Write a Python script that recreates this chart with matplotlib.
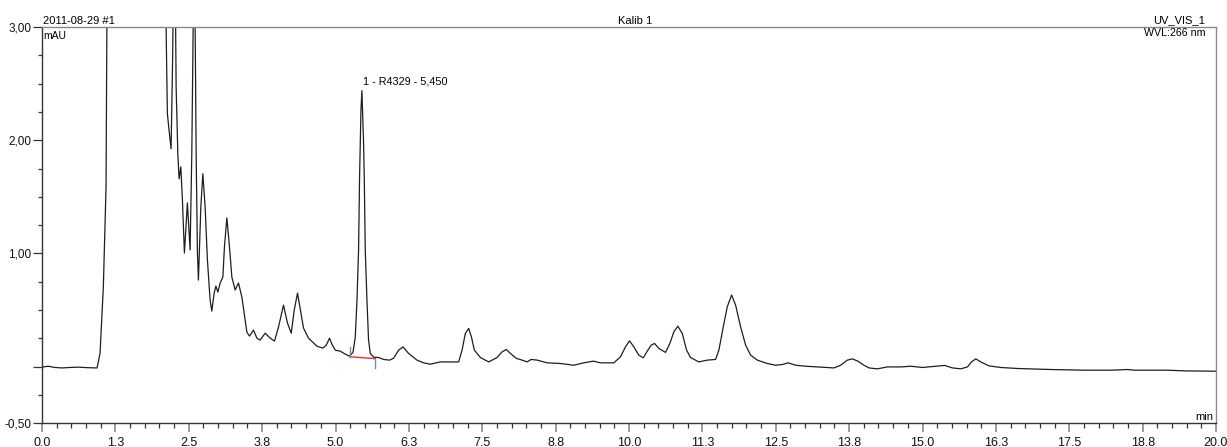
import matplotlib
matplotlib.use('Agg')
import matplotlib.pyplot as plt
from matplotlib.ticker import FixedLocator, MultipleLocator

plt.rcParams['font.family'] = ['Liberation Sans Narrow', 'Liberation Sans', 'DejaVu Sans']

# Chromatogram trace (retention time in min, absorbance in mAU)
time_min = [
    0.000, 0.102, 0.222, 0.341, 0.477, 0.614, 0.784, 0.938, 0.989, 1.045,
    1.091, 1.105, 1.125, 1.415, 1.756, 2.012, 2.114, 2.136, 2.165, 2.199,
    2.225, 2.242, 2.268, 2.285, 2.314, 2.336, 2.365, 2.392, 2.426, 2.477,
    2.523, 2.552, 2.575, 2.592, 2.609, 2.626, 2.648, 2.665, 2.706, 2.740,
    2.779, 2.818, 2.864, 2.893, 2.933, 2.962, 2.996, 3.035, 3.081, 3.108,
    3.149, 3.194, 3.234, 3.291, 3.347, 3.405, 3.444, 3.490, 3.535, 3.603,
    3.661, 3.717, 3.802, 3.888, 3.961, 4.029, 4.114, 4.182, 4.246, 4.297,
    4.353, 4.411, 4.455, 4.540, 4.684, 4.786, 4.842, 4.898, 4.939, 4.996,
    5.081, 5.166, 5.240, 5.298, 5.337, 5.366, 5.393, 5.410, 5.434, 5.450,
    5.478, 5.490, 5.507, 5.536, 5.563, 5.592, 5.649, 5.734, 5.819, 5.922,
    5.990, 6.075, 6.150, 6.245, 6.389, 6.501, 6.616, 6.786, 6.957, 7.098,
    7.156, 7.212, 7.269, 7.315, 7.366, 7.468, 7.610, 7.753, 7.838, 7.911,
    7.980, 8.082, 8.179, 8.264, 8.332, 8.435, 8.605, 8.832, 9.059, 9.229,
    9.390, 9.514, 9.741, 9.855, 9.940, 10.009, 10.082, 10.167, 10.242, 10.321,
    10.379, 10.435, 10.508, 10.622, 10.696, 10.764, 10.832, 10.907, 10.981, 11.049,
    11.190, 11.333, 11.475, 11.531, 11.606, 11.674, 11.748, 11.816, 11.901, 11.987,
    12.072, 12.186, 12.357, 12.498, 12.612, 12.708, 12.839, 13.010, 13.209, 13.492,
    13.606, 13.720, 13.805, 13.891, 14.003, 14.089, 14.232, 14.403, 14.629, 14.800,
    14.999, 15.226, 15.379, 15.511, 15.652, 15.766, 15.834, 15.908, 15.993, 16.135,
    16.334, 16.619, 17.187, 17.755, 18.210, 18.495, 18.607, 19.177, 19.460, 20.000,
]
signal_mau = [
    -0.004, 0.004, -0.007, -0.011, -0.007, -0.004, -0.009, -0.011, 0.119, 0.704,
    1.588, 3.000, 5.000, 8.000, 7.000, 4.500, 3.000, 2.235, 2.085, 1.925,
    2.712, 3.500, 3.500, 2.473, 1.880, 1.659, 1.765, 1.473, 1.004, 1.447,
    1.031, 1.880, 3.000, 3.400, 3.000, 1.880, 1.004, 0.765, 1.412, 1.704,
    1.412, 0.942, 0.588, 0.491, 0.650, 0.712, 0.659, 0.739, 0.792, 1.058,
    1.314, 1.058, 0.792, 0.677, 0.739, 0.615, 0.473, 0.305, 0.270, 0.323,
    0.252, 0.235, 0.296, 0.252, 0.226, 0.350, 0.544, 0.385, 0.296, 0.500,
    0.650, 0.473, 0.341, 0.252, 0.181, 0.164, 0.190, 0.252, 0.199, 0.146,
    0.137, 0.111, 0.093, 0.128, 0.261, 0.588, 1.031, 1.677, 2.270, 2.438,
    1.978, 1.677, 1.031, 0.588, 0.235, 0.119, 0.084, 0.081, 0.064, 0.058,
    0.075, 0.146, 0.175, 0.117, 0.058, 0.034, 0.022, 0.042, 0.042, 0.042,
    0.146, 0.294, 0.338, 0.264, 0.146, 0.081, 0.042, 0.081, 0.131, 0.152,
    0.117, 0.073, 0.058, 0.042, 0.064, 0.058, 0.034, 0.028, 0.013, 0.034,
    0.049, 0.034, 0.034, 0.087, 0.175, 0.228, 0.175, 0.102, 0.078, 0.146,
    0.190, 0.205, 0.161, 0.126, 0.205, 0.308, 0.358, 0.294, 0.146, 0.081,
    0.042, 0.058, 0.064, 0.146, 0.352, 0.529, 0.633, 0.544, 0.352, 0.190,
    0.102, 0.058, 0.028, 0.013, 0.019, 0.034, 0.013, 0.004, -0.002, -0.011,
    0.013, 0.058, 0.069, 0.051, 0.013, -0.011, -0.019, -0.002, -0.002, 0.004,
    -0.007, 0.004, 0.011, -0.011, -0.019, -0.002, 0.042, 0.069, 0.042, 0.007,
    -0.007, -0.016, -0.025, -0.031, -0.031, -0.025, -0.031, -0.031, -0.037, -0.040,
]

# Integration of peak 1
peak_label = '1 - R4329 - 5,450'
peak_time = 5.450
peak_height = 2.438
base_time = [5.240, 5.680]
base_mau = [0.088, 0.071]

x_major = [0.0, 1.25, 2.5, 3.75, 5.0, 6.25, 7.5, 8.75, 10.0, 11.25,
           12.5, 13.75, 15.0, 16.25, 17.5, 18.75, 20.0]
x_labels = ['0.0', '1.3', '2.5', '3.8', '5.0', '6.3', '7.5', '8.8', '10.0', '11.3',
            '12.5', '13.8', '15.0', '16.3', '17.5', '18.8', '20.0']
y_major = [-0.5, 0.0, 1.0, 2.0, 3.0]
y_labels = ['-0,50', '', '1,00', '2,00', '3,00']

W, H = 1227, 447
fig = plt.figure(figsize=(W / 100, H / 100), dpi=100)
ax = fig.add_axes([42 / W, 1 - 423.3 / H, (1216 - 42) / W, (423.3 - 27) / H])

ax.plot(time_min, signal_mau, color='#1e1e1e', lw=0.9)
ax.plot(base_time, base_mau, color='#e8302a', lw=1.0)
ax.plot([base_time[0], base_time[0]], [base_mau[0], base_mau[0] + 0.085], color='#7088c8', lw=1.0)
ax.plot([base_time[1], base_time[1]], [base_mau[1] - 0.08, base_mau[1]], color='#7088c8', lw=1.0)

ax.set_xlim(0, 20)
ax.set_ylim(-0.5, 3.0)

ax.xaxis.set_major_locator(FixedLocator(x_major))
ax.set_xticklabels(x_labels)
ax.xaxis.set_minor_locator(MultipleLocator(0.25))
ax.yaxis.set_major_locator(FixedLocator(y_major))
ax.set_yticklabels(y_labels)
ax.yaxis.set_minor_locator(MultipleLocator(0.25))

ax.tick_params(axis='x', which='major', length=6.5, width=1.2, color='#8a8a8a',
               labelsize=9, pad=3.5, labelcolor='#111111')
ax.tick_params(axis='x', which='minor', length=3.6, width=0.9, color='#333333')
ax.tick_params(axis='y', which='major', length=6.5, width=0.9, color='#333333',
               labelsize=8.5, pad=1, labelcolor='#111111')
ax.tick_params(axis='y', which='minor', length=3.2, width=0.9, color='#333333')

for side in ['left', 'bottom']:
    ax.spines[side].set_color('#333333')
    ax.spines[side].set_linewidth(1.0)
for side in ['top', 'right']:
    ax.spines[side].set_color('#8a8a8a')
    ax.spines[side].set_linewidth(1.0)

# header and units
fig.text(43 / W, 1 - 24 / H, '2011-08-29 #1', fontsize=8, va='baseline', ha='left')
fig.text(635 / W, 1 - 24 / H, 'Kalib 1', fontsize=8, va='baseline', ha='center')
fig.text(1205 / W, 1 - 23 / H, 'UV_VIS_1', fontsize=8, va='baseline', ha='right')
fig.text(1205 / W, 1 - 36 / H, 'WVL:266 nm', fontsize=7.7, va='baseline', ha='right')
fig.text(43 / W, 1 - 39 / H, 'mAU', fontsize=7.5, va='baseline', ha='left')
fig.text(1213 / W, 1 - 420 / H, 'min', fontsize=8, va='baseline', ha='right')

ax.annotate(peak_label, xy=(peak_time, peak_height), xytext=(0.5, 4.5),
            textcoords='offset points', fontsize=7.8, ha='left', va='baseline')

fig.savefig('out.png', dpi=100)
